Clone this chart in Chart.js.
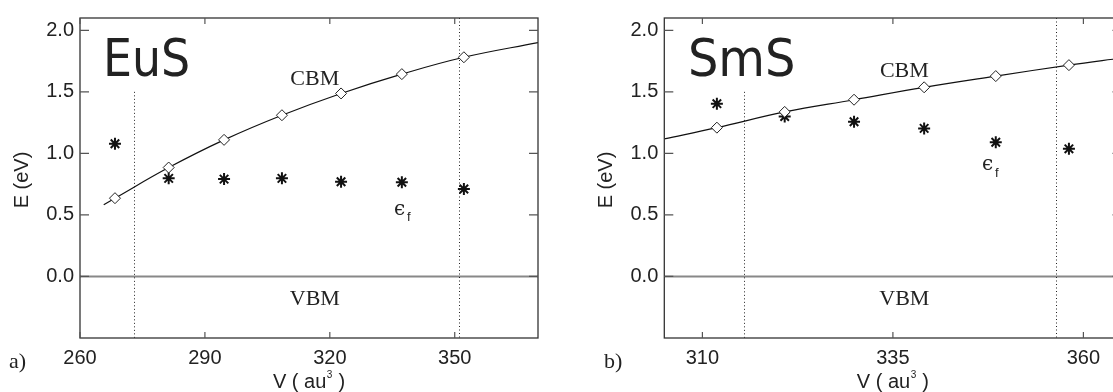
<!DOCTYPE html>
<html>
<head>
<meta charset="utf-8">
<script src="https://cdn.jsdelivr.net/npm/chart.js@4.4.0/dist/chart.umd.min.js"></script>
<style>
  html, body { margin: 0; padding: 0; background: #fff; overflow: hidden; }
  body { width: 1113px; height: 392px; position: relative; }
  .panel { position: absolute; top: 0; height: 392px; }
  #panelA { left: 0; width: 560px; }
  #panelB { left: 560px; width: 640px; }
</style>
</head>
<body>
<div class="panel" id="panelA"><canvas id="chartA" width="560" height="392"></canvas></div>
<div class="panel" id="panelB"><canvas id="chartB" width="640" height="392"></canvas></div>
<script>
// a) EuS
const volA = [268.4, 281.3, 294.6, 308.5, 322.7, 337.3, 352.2];
const cbmA = [0.636, 0.885, 1.110, 1.310, 1.487, 1.644, 1.781];
const efA = [1.078, 0.797, 0.791, 0.797, 0.770, 0.765, 0.711];
const fitVolA = [265.7, 268.4, 281.3, 294.6, 308.5, 322.7, 337.3, 352.2, 370];
const fitA = [0.583, 0.636, 0.885, 1.110, 1.310, 1.487, 1.644, 1.781, 1.900];
const xTicksA = [260, 290, 320, 350];
const dottedA = [273, 351];
const dottedTopA = [1.5, 2.1];

// b) SmS
const volB = [311.9, 320.8, 329.9, 339.1, 348.5, 358.1];
const cbmB = [1.209, 1.337, 1.436, 1.537, 1.628, 1.717];
const efB = [1.404, 1.299, 1.257, 1.203, 1.091, 1.037];
const fitVolB = [305, 311.9, 320.8, 329.9, 339.1, 348.5, 358.1, 365];
const fitB = [1.118, 1.209, 1.337, 1.436, 1.537, 1.628, 1.717, 1.775];
const xTicksB = [310, 335, 360];
const dottedB = [315.5, 356.4];
const dottedTopB = [1.5, 2.1];

const yTicks = [0, 0.5, 1.0, 1.5, 2.0];

const pts = (xs, ys) => xs.map((v, i) => ({ x: v, y: ys[i] }));

// frame, inward ticks, labels and titles
const decor = {
    id: 'decor',
    beforeDatasetsDraw(chart, args, o) {
        const { ctx, chartArea: a, scales: { x, y } } = chart;
        ctx.save();
        // VBM line at 0
        const y0 = y.getPixelForValue(0);
        ctx.strokeStyle = '#888';
        ctx.lineWidth = 2;
        ctx.beginPath(); ctx.moveTo(a.left, y0); ctx.lineTo(a.right, y0); ctx.stroke();
        // dotted volume markers
        ctx.setLineDash([1, 2.5]);
        ctx.strokeStyle = '#222';
        ctx.lineWidth = 1;
        o.dotted.forEach((v, i) => {
            const px = Math.round(x.getPixelForValue(v)) + 0.5;
            ctx.beginPath();
            ctx.moveTo(px, y.getPixelForValue(o.dottedTop[i]));
            ctx.lineTo(px, a.bottom);
            ctx.stroke();
        });
        ctx.restore();
    },
    afterDraw(chart, args, o) {
        const { ctx, chartArea: a, scales: { x, y } } = chart;
        ctx.save();
        // frame
        ctx.strokeStyle = '#333';
        ctx.lineWidth = 1.3;
        ctx.strokeRect(a.left, a.top, a.right - a.left, a.bottom - a.top);
        // inward ticks
        ctx.strokeStyle = '#555';
        ctx.lineWidth = 1.2;
        x.ticks.forEach(t => {
            const px = x.getPixelForValue(t.value);
            ctx.beginPath();
            ctx.moveTo(px, a.bottom); ctx.lineTo(px, a.bottom - 6);
            ctx.moveTo(px, a.top); ctx.lineTo(px, a.top + 6);
            ctx.stroke();
        });
        y.ticks.forEach(t => {
            const py = y.getPixelForValue(t.value);
            ctx.beginPath();
            ctx.moveTo(a.left, py); ctx.lineTo(a.left + 9, py);
            ctx.moveTo(a.right, py); ctx.lineTo(a.right - 9, py);
            ctx.stroke();
        });

        ctx.fillStyle = '#222';
        // compound name
        ctx.save();
        ctx.font = '51px "DejaVu Sans"';
        ctx.textBaseline = 'alphabetic';
        ctx.translate(x.getPixelForValue(o.name[1]), y.getPixelForValue(o.name[2]));
        ctx.scale(o.nameSquash, 1);
        ctx.fillText(o.name[0], 0, 0);
        ctx.restore();

        // CBM / VBM
        ctx.font = '22px "Liberation Serif"';
        ctx.textAlign = 'center';
        ctx.textBaseline = 'middle';
        ctx.fillText('CBM', x.getPixelForValue(o.cbm[0]), y.getPixelForValue(o.cbm[1]));
        ctx.fillText('VBM', x.getPixelForValue(o.vbm[0]), y.getPixelForValue(o.vbm[1]));

        // epsilon_f
        const ex = x.getPixelForValue(o.ef[0]), ey = y.getPixelForValue(o.ef[1]);
        ctx.textAlign = 'left';
        ctx.font = '20px "DejaVu Serif"';
        ctx.fillText('\u03F5', ex - 10, ey - 2);
        ctx.font = '13px "Liberation Sans"';
        ctx.fillText('f', ex + 3, ey + 6);

        // axis titles
        ctx.font = '20px "Liberation Sans"';
        ctx.textAlign = 'center';
        ctx.save();
        ctx.translate(a.left - 58, (a.top + a.bottom) / 2 + 2);
        ctx.rotate(-Math.PI / 2);
        ctx.fillText('E (eV)', 0, 0);
        ctx.restore();

        const cx = (a.left + a.right) / 2, cy = 382;
        const p1 = 'V ( au', p3 = ' )';
        const w1 = ctx.measureText(p1).width, w3 = ctx.measureText(p3).width;
        ctx.font = '10px "Liberation Sans"';
        const w2 = ctx.measureText('3').width + 1;
        const start = cx - (w1 + w2 + w3) / 2;
        ctx.textAlign = 'left';
        ctx.fillText('3', start + w1 + 0.5, cy - 7);
        ctx.font = '20px "Liberation Sans"';
        ctx.fillText(p1, start, cy);
        ctx.fillText(p3, start + w1 + w2, cy);

        // panel tag
        ctx.font = '22px "Liberation Serif"';
        ctx.fillText(o.tag, o.tagX, 362);
        ctx.restore();
    }
};

function makeChart(id, d) {
    return new Chart(document.getElementById(id), {
        type: 'scatter',
        data: {
            datasets: [
                {
                    type: 'line',
                    data: pts(d.fitVol, d.fit),
                    borderColor: '#111',
                    borderWidth: 1.2,
                    pointRadius: 0,
                    tension: 0.4,
                    fill: false,
                    order: 3
                },
                {
                    data: pts(d.vol, d.ef),
                    pointStyle: 'star',
                    pointRadius: 6,
                    borderColor: '#111',
                    borderWidth: 2,
                    backgroundColor: '#111',
                    order: 2
                },
                {
                    data: pts(d.vol, d.cbm),
                    pointStyle: 'rectRot',
                    pointRadius: 5.5,
                    borderColor: '#222',
                    borderWidth: 1,
                    backgroundColor: '#fff',
                    order: 1
                }
            ]
        },
        options: {
            responsive: false,
            animation: false,
            devicePixelRatio: 1,
            layout: { padding: { left: 0, right: d.padRight, top: 14, bottom: 0 } },
            plugins: {
                legend: { display: false },
                tooltip: { enabled: false },
                decor: d.decor
            },
            scales: {
                x: {
                    type: 'linear',
                    min: d.xMin,
                    max: d.xMax,
                    grid: { display: false, drawTicks: false },
                    border: { display: false },
                    afterBuildTicks: s => { s.ticks = d.xTicks.map(v => ({ value: v })); },
                    afterFit: s => { s.height = 54; },
                    ticks: {
                        padding: 8,
                        color: '#222',
                        font: { family: 'Liberation Sans', size: 20 },
                        callback: v => String(v)
                    }
                },
                y: {
                    min: -0.5,
                    max: 2.1,
                    grid: { display: false, drawTicks: false },
                    border: { display: false },
                    afterBuildTicks: s => { s.ticks = yTicks.map(v => ({ value: v })); },
                    afterFit: s => { s.width = d.yWidth; },
                    ticks: {
                        padding: 6,
                        color: '#222',
                        font: { family: 'Liberation Sans', size: 20 },
                        callback: v => Number(v).toFixed(1)
                    }
                }
            }
        },
        plugins: [decor]
    });
}

makeChart('chartA', {
    vol: volA, cbm: cbmA, ef: efA, fitVol: fitVolA, fit: fitA,
    xMin: 260, xMax: 370, xTicks: xTicksA, yWidth: 80, padRight: 22,
    decor: {
        dotted: dottedA, dottedTop: dottedTopA,
        name: ['EuS', 265.5, 1.632], nameSquash: 0.9,
        cbm: [316.4, 1.6], vbm: [316.4, -0.184], ef: [337.8, 0.528],
        tag: 'a)', tagX: 9
    }
});

makeChart('chartB', {
    vol: volB, cbm: cbmB, ef: efB, fitVol: fitVolB, fit: fitB,
    xMin: 305, xMax: 365, xTicks: xTicksB, yWidth: 104.3, padRight: 78.5,
    decor: {
        dotted: dottedB, dottedTop: dottedTopB,
        name: ['SmS', 308.1, 1.632], nameSquash: 0.94,
        cbm: [336.5, 1.664], vbm: [336.5, -0.184], ef: [348.0, 0.888],
        tag: 'b)', tagX: 44
    }
});
</script>
</body>
</html>
